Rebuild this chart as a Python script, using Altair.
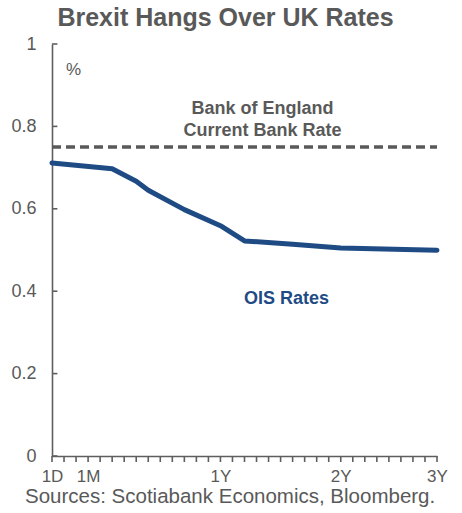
import altair as alt
import pandas as pd

# OIS curve (x = category index on the tenor axis)
ois_idx = [0, 5, 7, 8, 11, 14, 16, 20, 24, 32]
ois_val = [0.711, 0.697, 0.667, 0.645, 0.598, 0.559, 0.522, 0.514, 0.505, 0.4995]

bank_rate = 0.75
n_categories = 33
tick_labels = {0: "1D", 3: "1M", 14: "1Y", 24: "2Y", 32: "3Y"}
y_ticks = [0, 0.2, 0.4, 0.6, 0.8, 1.0]

GRAY = "#595959"
AXIS = "#5e5e5e"
BLUE = "#1f4b85"
FONT = "Liberation Sans"
PLOT_H = 412

ois = pd.DataFrame({"x": ois_idx, "y": ois_val})
rate = pd.DataFrame({"x": [0], "x2": [n_categories - 1], "y": [bank_rate]})
yt = pd.DataFrame({"x": [0] * len(y_ticks), "x2": [0.45] * len(y_ticks), "y": y_ticks})
xt = pd.DataFrame({"x": list(range(n_categories))})

label_expr = " : ".join(
    f"datum.value == {k} ? '{v}'" for k, v in tick_labels.items()
) + " : ''"

xscale = alt.Scale(domain=[0, n_categories - 1], nice=False, zero=False)
yscale = alt.Scale(domain=[0, 1], nice=False)

xaxis = alt.Axis(
    values=list(tick_labels.keys()),
    labelExpr=label_expr,
    title=None,
    grid=False,
    domainColor=AXIS,
    domainWidth=1.6,
    ticks=False,
    labelColor=GRAY,
    labelFont=FONT,
    labelFontSize=17,
    labelPadding=12,
    labelFlush=False,
    labelOverlap=False,
)
yaxis = alt.Axis(
    values=y_ticks,
    labelExpr="datum.value == 0 ? '0' : datum.value == 1 ? '1' : format(datum.value, '.1f')",
    title=None,
    grid=False,
    domainColor=AXIS,
    domainWidth=1.6,
    ticks=False,
    labelColor=GRAY,
    labelFont=FONT,
    labelFontSize=18,
    labelPadding=16,
)

X = lambda f: alt.X(f, scale=xscale, axis=xaxis)
Y = lambda f: alt.Y(f, scale=yscale, axis=yaxis)

line = alt.Chart(ois).mark_line(
    color=BLUE, strokeWidth=5, strokeJoin="round", strokeCap="round"
).encode(x=X("x:Q"), y=Y("y:Q"))

dash = alt.Chart(rate).mark_rule(color=GRAY, strokeWidth=3.5, strokeDash=[9, 5]).encode(
    x=X("x:Q"), x2="x2:Q", y=Y("y:Q")
)

yticks = alt.Chart(yt).mark_rule(color=AXIS, strokeWidth=1.6).encode(
    x=X("x:Q"), x2="x2:Q", y=Y("y:Q")
)

xticks = alt.Chart(xt).mark_rule(color=AXIS, strokeWidth=1.6).encode(
    x=X("x:Q"), y=alt.value(PLOT_H), y2=alt.value(PLOT_H + 6)
)

ann = pd.DataFrame({
    "x": [17.5, 17.5, 19.5, 1.8],
    "y": [0.843, 0.789, 0.38, 0.938],
    "t": ["Bank of England", "Current Bank Rate", "OIS Rates", "%"],
    "c": [GRAY, GRAY, BLUE, GRAY],
    "w": ["bold", "bold", "bold", "normal"],
})
bold_ann = alt.Chart(ann[ann.w == "bold"]).mark_text(
    font=FONT, fontSize=18, fontWeight="bold", baseline="middle", align="center"
).encode(
    x=X("x:Q"), y=Y("y:Q"), text="t:N",
    color=alt.Color("c:N", scale=None),
)
pct = alt.Chart(ann[ann.w == "normal"]).mark_text(
    font=FONT, fontSize=17, baseline="middle", align="center", color=GRAY
).encode(x=X("x:Q"), y=Y("y:Q"), text="t:N")

source = alt.Chart(pd.DataFrame({"t": ["Sources: Scotiabank Economics, Bloomberg."]})).mark_text(
    font=FONT, fontSize=20.5, align="left", baseline="alphabetic", color=GRAY
).encode(x=alt.value(-27), y=alt.value(459), text="t:N")

chart = alt.layer(line, dash, yticks, xticks, bold_ann, pct, source).properties(
    width=385,
    height=PLOT_H,
    title=alt.TitleParams(
        "Brexit Hangs Over UK Rates",
        font=FONT, fontSize=25, fontWeight="bold", color=GRAY,
        anchor="middle", dx=-19, offset=4,
    ),
    autosize=alt.AutoSizeParams(type="none"),
    padding={"left": 52, "top": 44, "right": 25, "bottom": 57},
).configure_view(stroke=None)

chart.save("out.html", embed_options={"renderer": "svg", "actions": False})
